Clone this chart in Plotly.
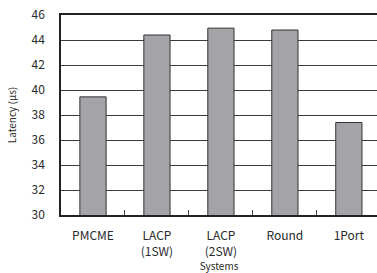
import plotly.graph_objects as go

categories = ["PMCME", "LACP<br>(1SW)", "LACP<br>(2SW)", "Round", "1Port"]
latency = [39.45, 44.4, 44.95, 44.8, 37.4]
y_ticks = [30, 32, 34, 36, 38, 40, 42, 44, 46]

FONT = "Noto Sans CJK JP, Liberation Sans, sans-serif"

fig = go.Figure(
    go.Bar(
        x=categories,
        y=latency,
        width=0.41,
        marker=dict(color="#a4a4a8", line=dict(color="#333333", width=1)),
    )
)

fig.update_layout(
    width=377,
    height=273,
    margin=dict(l=61, r=0, t=15, b=58),
    paper_bgcolor="white",
    plot_bgcolor="white",
    showlegend=False,
    font=dict(family=FONT, color="#2a2a2a", size=11),
)

fig.update_xaxes(
    type="category",
    range=[-0.5, 4.44],
    showline=True,
    linecolor="#222222",
    linewidth=1.5,
    mirror=True,
    ticks="inside",
    tickson="boundaries",
    ticklen=5,
    tickcolor="#444444",
    ticklabelstandoff=9,
    tickfont=dict(size=12),
    showgrid=False,
    title=dict(text="Systems", font=dict(size=10), standoff=4),
)

fig.update_yaxes(
    range=[30, 46],
    tickvals=y_ticks,
    showline=True,
    linecolor="#222222",
    linewidth=1.5,
    showgrid=True,
    gridcolor="#3a3a3a",
    gridwidth=1,
    ticks="",
    ticklabelstandoff=12,
    tickfont=dict(size=12),
    title=dict(text="Latency (μs)", font=dict(size=10), standoff=13),
)

fig.write_html(
    "out.html",
    config={"displayModeBar": False},
    post_script="document.body.style.margin='0';document.body.style.overflow='hidden';",
)
